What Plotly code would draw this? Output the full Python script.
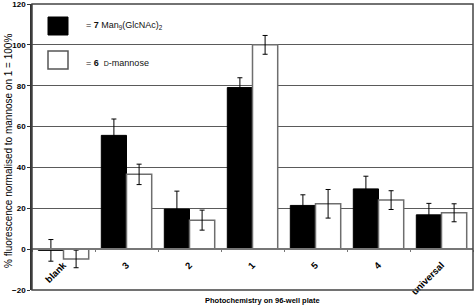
import plotly.graph_objects as go

categories = ["blank", "3", "2", "1", "5", "4", "universal"]
man9_values = [-0.6, 55.7, 19.6, 79.1, 21.4, 29.5, 16.8]
man9_errors = [5.3, 8.0, 8.8, 4.8, 5.2, 6.2, 5.6]
mannose_values = [-4.8, 36.6, 14.2, 100.0, 22.2, 24.0, 17.8]
mannose_errors = [4.3, 5.0, 4.9, 4.6, 7.0, 4.6, 4.4]
y_ticks = [-20, 0, 20, 40, 60, 80, 100, 120]

W, H = 475, 307
ML, MR, MT, MB = 32, 2, 4, 17
PW = W - ML - MR
PH = H - MT - MB


def px_x(x):
    return (x - ML) / PW


def px_y(y):
    return (H - MB - y) / PH


FONT = "Liberation Sans, Arial, sans-serif"

fig = go.Figure()
fig.add_trace(go.Bar(
    x=categories, y=man9_values, name="7 Man9(GlcNAc)2",
    marker=dict(color="black", line=dict(color="black", width=1)),
    error_y=dict(type="data", array=man9_errors, color="black", thickness=1, width=2.5),
))
fig.add_trace(go.Bar(
    x=categories, y=mannose_values, name="6 D-mannose",
    marker=dict(color="white", line=dict(color="#6e6e6e", width=1.5)),
    error_y=dict(type="data", array=mannose_errors, color="black", thickness=1, width=2.5),
))

ymin, ymax = y_ticks[0], y_ticks[-1]
zero_pos = (0 - ymin) / (ymax - ymin)

fig.update_layout(
    width=W, height=H,
    margin=dict(l=ML, r=MR, t=MT, b=MB, autoexpand=False),
    paper_bgcolor="white", plot_bgcolor="white",
    barmode="group", bargap=0.2, bargroupgap=0,
    showlegend=False,
    font=dict(family=FONT, color="black"),
    xaxis=dict(
        type="category", anchor="free", position=zero_pos, automargin=False,
        showline=True, linecolor="#777777", linewidth=1.5,
        ticks="outside", tickson="boundaries", ticklen=2, tickcolor="#777777",
        tickangle=-45, showgrid=False, zeroline=False, ticklabelstandoff=6,
        tickfont=dict(family=FONT, size=9.5, color="black", weight="bold"),
    ),
    yaxis=dict(
        range=[ymin, ymax], tickvals=y_ticks, automargin=False,
        showgrid=True, gridcolor="#5a5a5a", gridwidth=1,
        zeroline=False, ticklabeloverflow="allow",
        showline=True, linecolor="#333333", linewidth=1.5,
        ticks="outside", ticklen=3, tickcolor="#333333",
        tickfont=dict(family=FONT, size=8, color="black", weight="bold"),
    ),
    shapes=[
        dict(type="rect", xref="paper", yref="paper", x0=0, x1=1, y0=0, y1=1,
             line=dict(color="#444444", width=1.5), layer="above"),
        dict(type="rect", xref="paper", yref="paper",
             x0=px_x(48), x1=px_x(68), y0=px_y(35), y1=px_y(17),
             fillcolor="black", line=dict(color="black", width=1)),
        dict(type="rect", xref="paper", yref="paper",
             x0=px_x(48), x1=px_x(68), y0=px_y(69), y1=px_y(51),
             fillcolor="white", line=dict(color="#555555", width=1.5)),
    ],
    annotations=[
        dict(xref="paper", yref="paper", x=px_x(84), y=px_y(26), xanchor="left", yanchor="middle",
             showarrow=False, font=dict(family=FONT, size=9, color="#111111"),
             text="= <b>7</b> Man<sub>9</sub>(GlcNAc)<sub>2</sub>"),
        dict(xref="paper", yref="paper", x=px_x(84), y=px_y(63), xanchor="left", yanchor="middle",
             showarrow=False, font=dict(family=FONT, size=9, color="#111111"),
             text="= <b>6</b>  <span style='font-size:7px'>D</span>-mannose"),
        dict(xref="paper", yref="paper", x=px_x(8), y=px_y(151), xanchor="center", yanchor="middle",
             textangle=-90, showarrow=False, font=dict(family=FONT, size=10, color="black"),
             text="% fluorescence normalised to mannose on 1 = 100%"),
        dict(xref="paper", yref="paper", x=px_x(262), y=px_y(300), xanchor="center", yanchor="middle",
             showarrow=False, font=dict(family=FONT, size=7.5, color="black", weight="bold"),
             text="Photochemistry on 96-well plate"),
    ],
)

fig.write_html("out.html", config={"displayModeBar": False},
               post_script="document.body.style.margin='0';document.body.style.padding='0';")
